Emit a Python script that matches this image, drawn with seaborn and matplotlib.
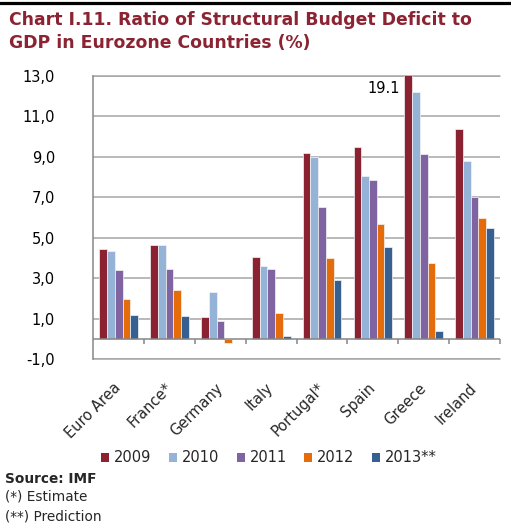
import numpy as np
import pandas as pd
import matplotlib
matplotlib.use("Agg")
import matplotlib.pyplot as plt
from matplotlib.patches import Patch
from matplotlib.lines import Line2D
import seaborn as sns

# ---- data -------------------------------------------------------------
countries = ["Euro Area", "France*", "Germany", "Italy", "Portugal*",
             "Spain", "Greece", "Ireland"]
years = ["2009", "2010", "2011", "2012", "2013**"]

v2009 = [4.45, 4.63, 1.08, 4.07, 9.16, 9.49, 19.1, 10.36]
v2010 = [4.35, 4.63, 2.33, 3.60, 9.01, 8.04, 12.20, 8.77]
v2011 = [3.43, 3.48, 0.88, 3.48, 6.54, 7.84, 9.13, 7.02]
v2012 = [1.98, 2.44, -0.22, 1.29, 4.01, 5.70, 3.74, 5.98]
v2013 = [1.19, 1.14, 0.0, 0.17, 2.90, 4.53, 0.40, 5.46]

y_ticks = [-1, 1, 3, 5, 7, 9, 11, 13]
y_ticklabels = ["-1,0", "1,0", "3,0", "5,0", "7,0", "9,0", "11,0", "13,0"]

colors = ["#8B2232", "#95B3D7", "#8064A2", "#E46C0A", "#376092"]
title_color = "#8B2332"

series = [v2009, v2010, v2011, v2012, v2013]
df = pd.DataFrame({
    "country": np.tile(countries, len(years)),
    "year": np.repeat(years, len(countries)),
    "value": np.concatenate(series),
})

# ---- figure -------------------------------------------------------------
sns.set_style("white")
plt.rcParams["font.family"] = ["DejaVu Sans"]

W, H = 511, 531
fig = plt.figure(figsize=(W / 100, H / 100), dpi=100)

# thick rule above the title
fig.add_artist(Line2D([0, 1], [1 - 3 / H, 1 - 3 / H], color="black", lw=2.3,
                      transform=fig.transFigure))

fig.text(9 / W, 1 - 25 / H, "Chart I.11. Ratio of Structural Budget Deficit to",
         color=title_color, fontsize=12.4, fontweight="bold", va="baseline")
fig.text(9 / W, 1 - 48 / H, "GDP in Eurozone Countries (%)",
         color=title_color, fontsize=12.4, fontweight="bold", va="baseline")

ax_left, ax_right = 93.3, 500.0
ax_top, ax_bottom = 75.7, 359.3
ax = fig.add_axes([ax_left / W, 1 - ax_bottom / H,
                   (ax_right - ax_left) / W, (ax_bottom - ax_top) / H])

sns.barplot(data=df, x="country", y="value", hue="year", order=countries,
            hue_order=years, palette=colors, saturation=1, width=0.76,
            errorbar=None, edgecolor="#F4F4F4", linewidth=0.5, legend=False,
            ax=ax, zorder=3)

grid_col = "#A6A6A6"
axis_col = "#868686"
ax.set_ylim(-1, 13)
ax.set_xlim(-0.5, len(countries) - 0.5)
ax.set_yticks(y_ticks)
ax.set_yticklabels(y_ticklabels)
ax.yaxis.grid(True, color=grid_col, lw=1.1, zorder=0)
ax.set_axisbelow(True)
ax.tick_params(axis="y", length=3.6, width=1.1, color=axis_col, pad=24,
               labelsize=10.5, labelcolor="black")
for lab in ax.get_yticklabels():
    lab.set_horizontalalignment("right")

ax.set_xticks(range(len(countries)))
ax.set_xticklabels(countries, rotation=45, ha="right", va="center",
                   rotation_mode="anchor")
ax.tick_params(axis="x", length=0, pad=19, labelsize=10.5)
ax.set_xlabel("")
ax.set_ylabel("")

for side in ["top", "right", "bottom"]:
    ax.spines[side].set_visible(False)
ax.spines["left"].set_color(axis_col)
ax.spines["left"].set_linewidth(1.1)

# gridlines on the plot edges, kept whole
ax.axhline(-1, color=grid_col, lw=1.1, zorder=1, clip_on=False)
ax.axhline(13, color=grid_col, lw=1.1, zorder=1, clip_on=False)

# category axis along zero with boundary ticks
ax.axhline(0, color=axis_col, lw=1.1, zorder=4)
bounds = np.arange(len(countries) + 1) - 0.5
ax.vlines(bounds[1:], -0.25, 0, color=axis_col, lw=1.1, zorder=4,
          clip_on=False)

# value label for the off-scale bar
gi = countries.index("Greece")
bar = ax.containers[0][gi]
ax.annotate(f"{v2009[gi]}", xy=(bar.get_x(), 13), xytext=(-3.5, -9.5),
            textcoords="offset points", ha="right", va="center",
            fontsize=10.5, color="black")

# legend
handles = [Patch(facecolor=c, edgecolor="none", label=y)
           for c, y in zip(colors, years)]
fig.legend(handles=handles, loc="center", ncol=5, frameon=False,
           bbox_to_anchor=(269 / W, 1 - 458 / H), fontsize=10.5,
           handlelength=0.55, handleheight=0.55, handletextpad=0.33,
           columnspacing=1.2, borderaxespad=0)

# source notes
fig.text(5 / W, 1 - 483 / H, "Source: IMF", fontsize=9.8, fontweight="bold",
         va="baseline")
fig.text(5 / W, 1 - 501 / H, "(*) Estimate", fontsize=9.8, va="baseline")
fig.text(5 / W, 1 - 520 / H, "(**) Prediction", fontsize=9.8, va="baseline")

fig.savefig("out.png", dpi=100)
